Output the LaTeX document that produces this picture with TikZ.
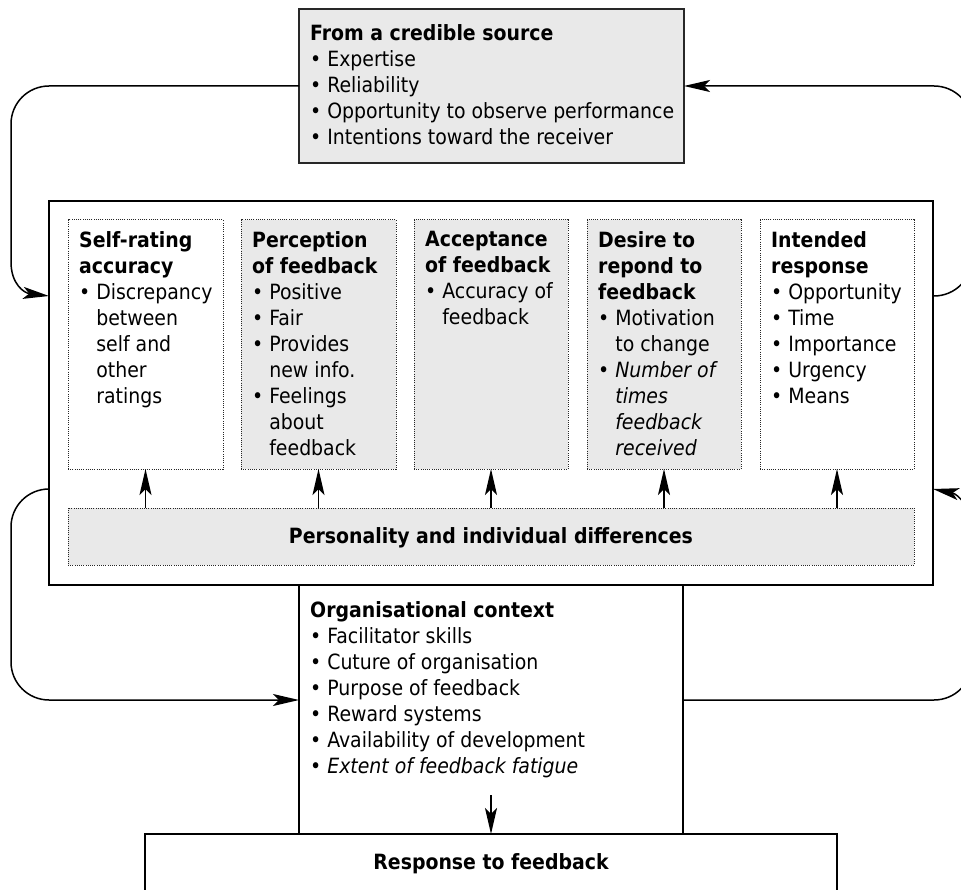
\documentclass[tikz,border=0pt]{standalone}
\usepackage{fontspec}
\setmainfont{DejaVu Sans Condensed}
\usetikzlibrary{arrows.meta}
\definecolor{boxgray}{RGB}{233,233,233}
\definecolor{linegray}{RGB}{40,40,40}
\newcommand\bl{\textbullet~}
\newcommand\bind{\phantom{\textbullet~}}
\tikzset{
  box/.style={draw=black, line width=1.5pt, fill=white, anchor=north west, inner sep=0pt, outer sep=0pt},
  graybox/.style={box, fill=boxgray, draw=linegray},
  dotbox/.style={draw=black!85, line width=1pt, dash pattern=on 1pt off 1.2pt, anchor=north west, inner sep=0pt, outer sep=0pt},
  txt/.style={anchor=base west, align=left, inner sep=0pt, font=\fontsize{21}{26}\selectfont},
  ctxt/.style={anchor=base, inner sep=0pt, font=\fontsize{21}{26}\selectfont\bfseries},
  conn/.style={line width=1.5pt, draw=black},
  arr/.style={conn, -{Stealth[length=26pt,width=12pt,inset=6pt]}},
}
\begin{document}
\begin{tikzpicture}[x=1pt,y=-1pt]
\clip (0,0) rectangle (961,890);
\fill[white] (0,0) rectangle (961,890);

% boxes
\node[graybox, minimum width=385pt, minimum height=154pt] (src) at (299,9) {};
\node[box, minimum width=884pt, minimum height=384pt] (main) at (49,201) {};
\node[dotbox, fill=white,   minimum width=155pt, minimum height=249pt] (b1) at (68,220) {};
\node[dotbox, fill=boxgray, minimum width=155pt, minimum height=249pt] (b2) at (241,220) {};
\node[dotbox, fill=boxgray, minimum width=154pt, minimum height=249pt] (b3) at (414,220) {};
\node[dotbox, fill=boxgray, minimum width=154pt, minimum height=249pt] (b4) at (587,220) {};
\node[dotbox, fill=white,   minimum width=154pt, minimum height=249pt] (b5) at (760,220) {};
\node[dotbox, fill=boxgray, minimum width=846pt, minimum height=57pt] (pers) at (68,508) {};
\node[box, minimum width=384pt, minimum height=249pt] (org) at (299,585) {};
\node[box, minimum width=692pt, minimum height=120pt] (resp) at (145,834) {};

% texts (anchor base = baseline of the last line; first baselines: 41, 247, 617)
\node[txt] (tsrc) at (310,145) {\textbf{From a credible source}\\
  \bl Expertise\\ \bl Reliability\\ \bl Opportunity to observe performance\\ \bl Intentions toward the receiver};
\node[txt] (t1) at (79,403) {\textbf{Self-rating}\\ \textbf{accuracy}\\ \bl Discrepancy\\ \bind between\\ \bind self and\\ \bind other\\ \bind ratings};
\node[txt] (t2) at (252,455) {\textbf{Perception}\\ \textbf{of feedback}\\ \bl Positive\\ \bl Fair\\ \bl Provides\\ \bind new info.\\ \bl Feelings\\ \bind about\\ \bind feedback};
\node[txt] (t3) at (425,325) {\textbf{Acceptance}\\ \textbf{of feedback}\\ \bl Accuracy of\\ \bind feedback};
\node[txt] (t4) at (598,455) {\textbf{Desire to}\\ \textbf{repond to}\\ \textbf{feedback}\\ \bl Motivation\\ \bind to change\\ \bl \textit{Number of}\\ \bind\textit{times}\\ \bind\textit{feedback}\\ \bind\textit{received}};
\node[txt] (t5) at (771,403) {\textbf{Intended}\\ \textbf{response}\\ \bl Opportunity\\ \bl Time\\ \bl Importance\\ \bl Urgency\\ \bl Means};
\node[ctxt] (tpers) at (491,543) {Personality and individual differences};
\node[txt] (torg) at (310,773) {\textbf{Organisational context}\\ \bl Facilitator skills\\ \bl Cuture of organisation\\ \bl Purpose of feedback\\ \bl Reward systems\\ \bl Availability of development\\ \bl \textit{Extent of feedback fatigue}};
\node[ctxt] (tresp) at (491,869) {Response to feedback};

% coordinates for connector ends
\coordinate (mainL1) at (49,296);
\coordinate (mainL2) at (49,489);
\coordinate (mainR1) at (933,296);
\coordinate (mainR2) at (933,489);
\coordinate (orgL) at (299,700);
\coordinate (orgR) at (683,700);
\coordinate (orgA) at (491,795);

% loops
\draw[arr] (src.west) -- (49,86) .. controls (28,86) and (11,103) .. (11,124)
  -- (11,262) .. controls (11,284) and (24,293) .. (mainL1);
\draw[arr, rounded corners=38pt] (mainL2) -- (11,489) -- (11,700) -- (orgL);
\draw[arr, rounded corners=38pt] (mainR1) -- (972,296) -- (972,86) -- (src.east);
\draw[arr] (orgR) -- (934,700) .. controls (955,700) and (972,683) .. (972,662)
  -- (972,530) .. controls (972,508) and (958,494) .. (mainR2);

% personality arrows
\foreach \b in {b1,b2,b3,b4,b5}
  \draw[arr] (\b.south |- pers.north) -- (\b.south);

% org to response
\draw[arr] (orgA) -- (orgA |- resp.north);
\end{tikzpicture}
\end{document}
